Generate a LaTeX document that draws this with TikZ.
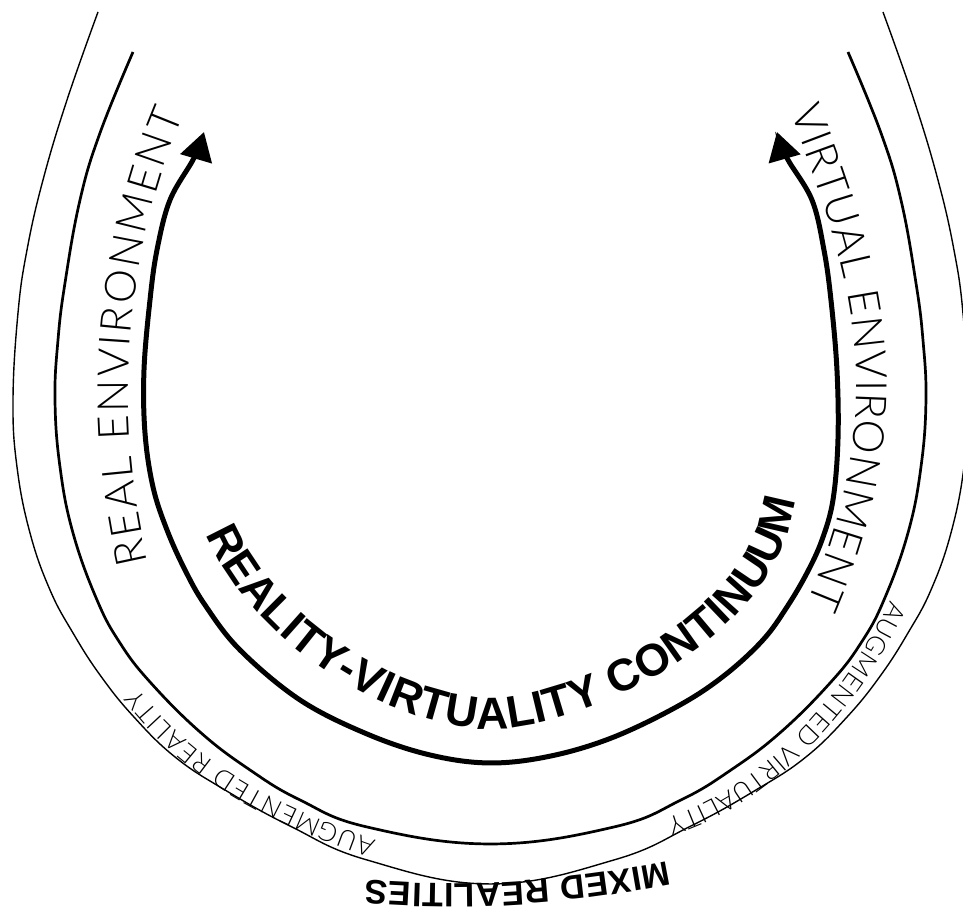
\documentclass[tikz,border=0pt]{standalone}
\usepackage{fontspec}
\setmainfont{Liberation Sans}
\newfontfamily\lightfont{Lato Light}
\usetikzlibrary{arrows.meta,decorations.text}
\begin{document}
\begin{tikzpicture}[x=0.1pt,y=0.1pt,
  innerline/.style={line width=0.5pt,{Triangle[length=2.8pt,width=3.2pt]}-{Triangle[length=2.8pt,width=3.2pt]}},
  midline/.style={line width=0.27pt},
  outline/.style={line width=0.14pt},
  envtext/.style={decorate,decoration={text along path,text align=fit to path,
     text={|\lightfont\fontsize{4.3}{5.2}\selectfont|#1}}},
  smalltext/.style={decorate,decoration={text along path,text align=fit to path,
     text={|\lightfont\fontsize{2.6}{3.1}\selectfont|#1}}},
  bigbold/.style={decorate,decoration={text along path,text align=fit to path,
     text={|\bfseries\fontsize{4.5}{5.4}\selectfont|#1}}},
  midbold/.style={decorate,decoration={text along path,text align=fit to path,
     text={|\bfseries\fontsize{3.4}{4}\selectfont|#1}}}
]
\fill[white] (0,0) rectangle (963,-922);
\useasboundingbox (0,0) rectangle (963,-922);

% outer curve
\draw[outline] plot[smooth,tension=0.7] coordinates {(98,-12) (67,-100) (43,-180) (27,-250) (18,-313) (13,-400) (17,-467) (30,-533) (50,-590) (73,-633) (100,-675) (133,-716) (175,-757) (225,-790) (290,-826) (367,-860) (490.5,-884) (614,-860) (691,-826) (756,-790) (806,-757) (848,-716) (881,-675) (908,-633) (931,-590) (951,-533) (964,-467) (968,-400) (963,-313) (954,-250) (938,-180) (914,-100) (883,-12)};

% middle curve
\draw[midline] plot[smooth,tension=0.7] coordinates {(133,-52) (100,-133) (80,-200) (65,-283) (58,-340) (55,-400) (60,-467) (73,-533) (97,-600) (120,-643) (150,-682) (200,-732) (250,-770) (300,-800) (367,-827) (490.5,-844) (614,-827) (681,-800) (731,-770) (781,-732) (831,-682) (861,-643) (884,-600) (908,-533) (921,-467) (926,-400) (923,-340) (916,-283) (901,-200) (881,-133) (848,-52)};

% inner arrow
\draw[innerline] plot[smooth,tension=0.6] coordinates {(204,-132) (194,-158) (170,-200) (157,-250) (150,-300) (144,-370) (145,-433) (153,-487) (167,-530) (185,-570) (205,-605) (240,-650) (300,-700) (367,-734) (430,-755) (490,-763) (551,-756) (614,-737) (680,-705) (725,-675) (763,-640) (787,-607) (807,-573) (822,-540) (833,-500) (838,-440) (837,-370) (831,-300) (824,-250) (812,-200) (787,-158) (777,-132)};

% text paths
\path[envtext={REAL ENVIRONMENT}] (148,-562) .. controls (115,-420) and (122,-260) .. (184,-114);
\path[envtext={VIRTUAL ENVIRONMENT}] (790,-112) .. controls (864,-298) and (885,-420) .. (807,-604);
\path[bigbold={REALITY-VIRTUALITY CONTINUUM}] (206,-534) .. controls (255,-650) and (400,-729) .. (490,-729) .. controls (580,-729) and (780,-640) .. (795,-500);
\path[smalltext={AUGMENTED REALITY}] (377,-841) .. controls (283,-808) and (198,-768) .. (138,-688);
\path[smalltext={AUGMENTED VIRTUALITY}] (890,-600) .. controls (848,-692) and (762,-790) .. (666,-818);
\path[midbold={MIXED REALITIES}] (668,-861) .. controls (568,-881) and (468,-889) .. (366,-880);
\end{tikzpicture}
\end{document}
